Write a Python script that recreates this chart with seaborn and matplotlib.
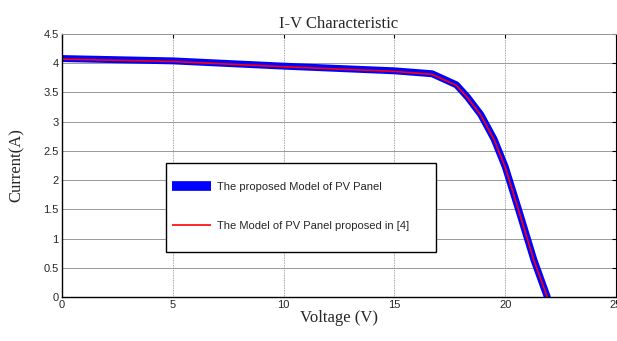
import numpy as np
import pandas as pd
import matplotlib
matplotlib.use("Agg")
import matplotlib.pyplot as plt
import matplotlib.patches as mpatches
import seaborn as sns

voltage = [0, 5, 10, 15, 16.7, 17.8, 18.3, 18.9, 19.5, 20.0, 20.6, 21.3, 21.9]
current_proposed = [4.08, 4.04, 3.95, 3.87, 3.82, 3.63, 3.42, 3.12, 2.70, 2.23, 1.50, 0.63, 0.0]
current_ref = [4.07, 4.03, 3.94, 3.86, 3.81, 3.62, 3.41, 3.11, 2.69, 2.22, 1.49, 0.62, 0.0]
x_ticks = [0, 5, 10, 15, 20, 25]
y_ticks = [0, 0.5, 1, 1.5, 2, 2.5, 3, 3.5, 4, 4.5]
y_tick_labels = ["0", "0.5", "1", "1.5", "2", "2.5", "3", "3.5", "4", "4.5"]

sns.set_style("white")
plt.rcParams['font.family'] = ['Liberation Sans', 'DejaVu Sans']

df = pd.DataFrame({"V": voltage, "Ip": current_proposed, "Ir": current_ref})

fig = plt.figure(figsize=(6.17, 3.41), dpi=100)
ax = fig.add_axes([62/617, 1-297/341, (616-62)/617, (297-34)/341])

sns.lineplot(data=df, x="V", y="Ip", ax=ax, color="#0000ff", linewidth=5,
             label="The proposed Model of PV Panel", sort=False)
sns.lineplot(data=df, x="V", y="Ir", ax=ax, color="#ff0000", linewidth=1.2,
             label="The Model of PV Panel proposed in [4]", sort=False)

ax.set_xlim(0, 25)
ax.set_ylim(0, 4.5)
ax.set_xticks(x_ticks)
ax.set_xticklabels([str(t) for t in x_ticks], fontsize=8)
ax.set_yticks(y_ticks)
ax.set_yticklabels(y_tick_labels, fontsize=8)
ax.tick_params(direction='in', length=3, width=0.8, pad=2.5, color='black',
               top=True, right=True)
ax.grid(True, color='#888888', linewidth=0.6, linestyle=(0, (1, 1)))
ax.yaxis.grid(True, color='#999999', linewidth=0.7, linestyle='-')

for s in ['left', 'bottom']:
    ax.spines[s].set_color('black')
    ax.spines[s].set_linewidth(1.0)
ax.spines['top'].set_color('#999999')
ax.spines['top'].set_linewidth(0.7)
ax.spines['right'].set_color('black')
ax.spines['right'].set_linewidth(0.8)

ax.set_title("I-V Characteristic", fontsize=12, family=['Liberation Serif'], pad=4)
ax.set_xlabel("Voltage (V)", fontsize=12, family=['Liberation Serif'], labelpad=0)
ax.set_ylabel("Current(A)", fontsize=12, family=['Liberation Serif'], labelpad=13)

# legend frame
frame = mpatches.Rectangle((0.188, 0.171), 0.487, 0.339, transform=ax.transAxes,
                           facecolor='white', edgecolor='black', linewidth=1.0,
                           zorder=4)
ax.add_patch(frame)

leg = ax.legend(loc='upper left', bbox_to_anchor=(0.199, 0.51 - 0.072),
                fontsize=8, frameon=False, borderaxespad=0, borderpad=0,
                labelspacing=2.6, handlelength=3.5, handletextpad=0.5)
leg.set_zorder(5)
for h in leg.get_lines():
    h.set_solid_capstyle('butt')
leg.get_lines()[0].set_linewidth(7)

fig.savefig("out.png", dpi=100)
